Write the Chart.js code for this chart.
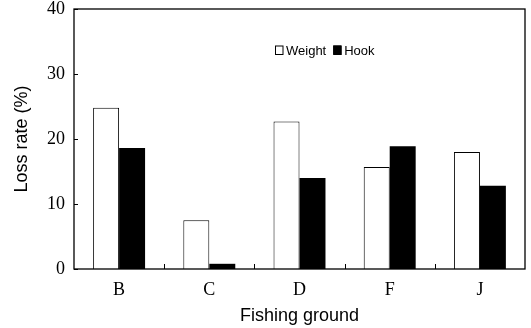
<!DOCTYPE html>
<html>
<head>
<meta charset="utf-8">
<script src="https://cdn.jsdelivr.net/npm/chart.js@4.4.0/dist/chart.umd.min.js"></script>
<style>
    html, body { margin: 0; padding: 0; background: #fff; }
</style>
</head>
<body>
<canvas id="lossChart" width="531" height="328"></canvas>
<script>
// Loss rate (%) by fishing ground
const grounds = ['B', 'C', 'D', 'F', 'J'];
const weightLoss = [24.8, 7.5, 22.7, 15.7, 18.0];
const hookLoss = [18.6, 0.8, 14.0, 18.9, 12.8];
const yTicks = [0, 10, 20, 30, 40];

/**
 * Draws the box around the plot, inward ticks and the in-plot legend
 */
const framePlugin = {
    id: 'frame',
    afterDatasetsDraw(chart) {
        const { ctx, chartArea: a, scales } = chart;
        ctx.save();
        ctx.strokeStyle = '#000';
        ctx.lineWidth = 1.3;
        ctx.strokeRect(a.left, a.top, a.right - a.left, a.bottom - a.top);

        ctx.lineWidth = 1;
        ctx.beginPath();
        yTicks.forEach(v => {
            const y = Math.round(scales.y.getPixelForValue(v)) + 0.5;
            ctx.moveTo(a.left, y);
            ctx.lineTo(a.left + 4, y);
        });
        for (let i = 1; i < grounds.length; i++) {
            const x = Math.round((scales.x.getPixelForTick(i - 1) + scales.x.getPixelForTick(i)) / 2) + 0.5;
            ctx.moveTo(x, a.bottom);
            ctx.lineTo(x, a.bottom - 5);
        }
        ctx.stroke();

        // legend
        ctx.font = '13px "Liberation Sans", Arial, sans-serif';
        ctx.textBaseline = 'middle';
        ctx.fillStyle = '#000';
        let x = a.left + 201;
        const y = a.top + 41;
        chart.data.datasets.forEach(ds => {
            ctx.fillStyle = ds.backgroundColor;
            ctx.fillRect(x, y - 4.5, 8, 9);
            ctx.strokeStyle = '#000';
            ctx.strokeRect(x + 0.5, y - 4, 7.5, 8.5);
            ctx.fillStyle = '#000';
            ctx.fillText(ds.label, x + 11, y + 1);
            x += 11 + ctx.measureText(ds.label).width + 7;
        });
        ctx.restore();
    }
};

const ctx = document.getElementById('lossChart').getContext('2d');

new Chart(ctx, {
    type: 'bar',
    data: {
        labels: grounds,
        datasets: [{
            label: 'Weight',
            data: weightLoss,
            backgroundColor: '#ffffff',
            borderColor: '#000000',
            borderWidth: 1,
            barPercentage: 1,
            categoryPercentage: 0.576
        }, {
            label: 'Hook',
            data: hookLoss,
            backgroundColor: '#000000',
            borderColor: '#000000',
            borderWidth: 0,
            barPercentage: 1,
            categoryPercentage: 0.576
        }]
    },
    options: {
        responsive: false,
        animation: false,
        layout: {
            padding: { top: 9, right: 6, left: 0, bottom: 0 }
        },
        plugins: {
            legend: { display: false },
            tooltip: { enabled: false }
        },
        scales: {
            x: {
                grid: { display: false, drawTicks: false },
                border: { display: false },
                ticks: {
                    color: '#000',
                    padding: 10,
                    font: { family: '"Liberation Serif", "Times New Roman", serif', size: 18 }
                },
                title: {
                    display: true,
                    text: 'Fishing ground',
                    color: '#000',
                    padding: { top: 0, bottom: 1 },
                    font: { family: '"Liberation Sans", Arial, sans-serif', size: 18 }
                },
                afterFit: (scale) => {
                    scale.height = 59;
                    scale.paddingLeft = 0;
                    scale.paddingRight = 0;
                }
            },
            y: {
                min: 0,
                max: 40,
                grid: { display: false, drawTicks: false },
                border: { display: false },
                ticks: {
                    stepSize: 10,
                    color: '#000',
                    padding: 9,
                    font: { family: '"Liberation Serif", "Times New Roman", serif', size: 18 }
                },
                title: {
                    display: true,
                    text: 'Loss rate (%)',
                    color: '#000',
                    padding: { top: 11, bottom: 0 },
                    font: { family: '"Liberation Sans", Arial, sans-serif', size: 18 }
                },
                afterFit: (scale) => {
                    scale.width = 74;
                    scale.paddingTop = 0;
                    scale.paddingBottom = 0;
                }
            }
        }
    },
    plugins: [framePlugin]
});
</script>
</body>
</html>
